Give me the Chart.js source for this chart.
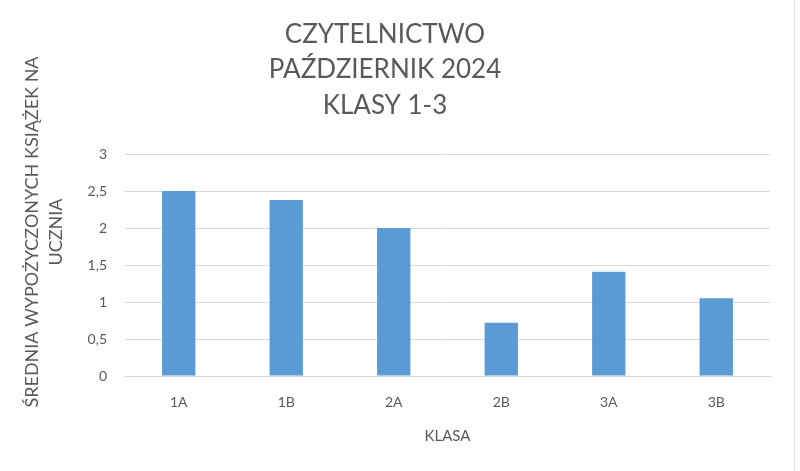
<!DOCTYPE html>
<html>
<head>
<meta charset="utf-8">
<script src="https://cdn.jsdelivr.net/npm/chart.js@4/dist/chart.umd.min.js"></script>
<style>
  html, body { margin: 0; padding: 0; background: #fff; }
  #wrap { position: relative; width: 800px; height: 471px; }
  #edge { position: absolute; left: 794px; top: 0; width: 0; height: 471px; border-left: 1px solid #e2e2e2; }
</style>
</head>
<body>
<div id="wrap">
  <canvas id="myChart" width="800" height="471"></canvas>
  <div id="edge"></div>
</div>
<script>
"use strict";

// dane z wykresu
const classes = ['1A', '1B', '2A', '2B', '3A', '3B'];
const avgBooks = [2.5, 2.38, 2.0, 0.72, 1.41, 1.05];
const titleLines = ['CZYTELNICTWO', 'PAŹDZIERNIK 2024', 'KLASY 1-3'];
const yTitleLines = ['ŚREDNIA WYPOŻYCZONYCH KSIĄŻEK NA', 'UCZNIA'];
const xTitle = 'KLASA';

const textColor = '#595959';
const gridColor = '#d9d9d9';
const fontName = 'Lato, "Open Sans", sans-serif';

// tytuł osi Y rysujemy sami, żeby wyśrodkować go tak jak w Excelu
const yTitlePlugin = {
    id: 'yTitle',
    afterDraw(chart) {
        const ctx = chart.ctx;
        ctx.save();
        ctx.fillStyle = textColor;
        ctx.font = '18px ' + fontName;
        ctx.textAlign = 'center';
        ctx.textBaseline = 'middle';
        ctx.translate(32, 232);
        ctx.rotate(-Math.PI / 2);
        for (let i = 0; i < yTitleLines.length; i++) {
            ctx.fillText(yTitleLines[i], 0, i * 24);
        }
        ctx.restore();
    }
};

const ctx = document.getElementById('myChart');
const myChart = new Chart(ctx, {
    type: 'bar',
    data: {
        labels: classes,
        datasets: [{
            label: 'Średnia',
            data: avgBooks,
            backgroundColor: '#5b9bd5',
            borderWidth: 0,
            categoryPercentage: 0.31,
            barPercentage: 1
        }]
    },
    options: {
        responsive: false,
        animation: false,
        layout: { padding: { left: 0, right: 30, top: 0, bottom: 0 } },
        plugins: {
            legend: { display: false },
            tooltip: { enabled: false },
            title: {
                display: true,
                text: titleLines,
                color: textColor,
                font: { family: fontName, size: 26, weight: 'normal', lineHeight: 1.36 },
                padding: { top: 17, bottom: 31 }
            }
        },
        scales: {
            x: {
                grid: { display: false, drawTicks: false, tickLength: 0 },
                border: { display: true, color: gridColor, width: 1 },
                ticks: { color: textColor, font: { family: fontName, size: 14 }, padding: 18 },
                title: {
                    display: true,
                    text: xTitle,
                    color: textColor,
                    font: { family: fontName, size: 15, lineHeight: 1.2 },
                    padding: { top: 0, bottom: 26 }
                },
                afterFit(scale) { scale.height = 95; }
            },
            y: {
                min: 0,
                max: 3,
                grid: { color: gridColor, lineWidth: 1, drawTicks: false, tickLength: 0 },
                border: { display: false },
                ticks: {
                    stepSize: 0.5,
                    color: textColor,
                    font: { family: fontName, size: 14 },
                    padding: 18,
                    callback: function (value) { return value.toString().replace('.', ','); }
                },
                afterFit(scale) { scale.width = 125; }
            }
        }
    },
    plugins: [yTitlePlugin]
});
</script>
</body>
</html>
